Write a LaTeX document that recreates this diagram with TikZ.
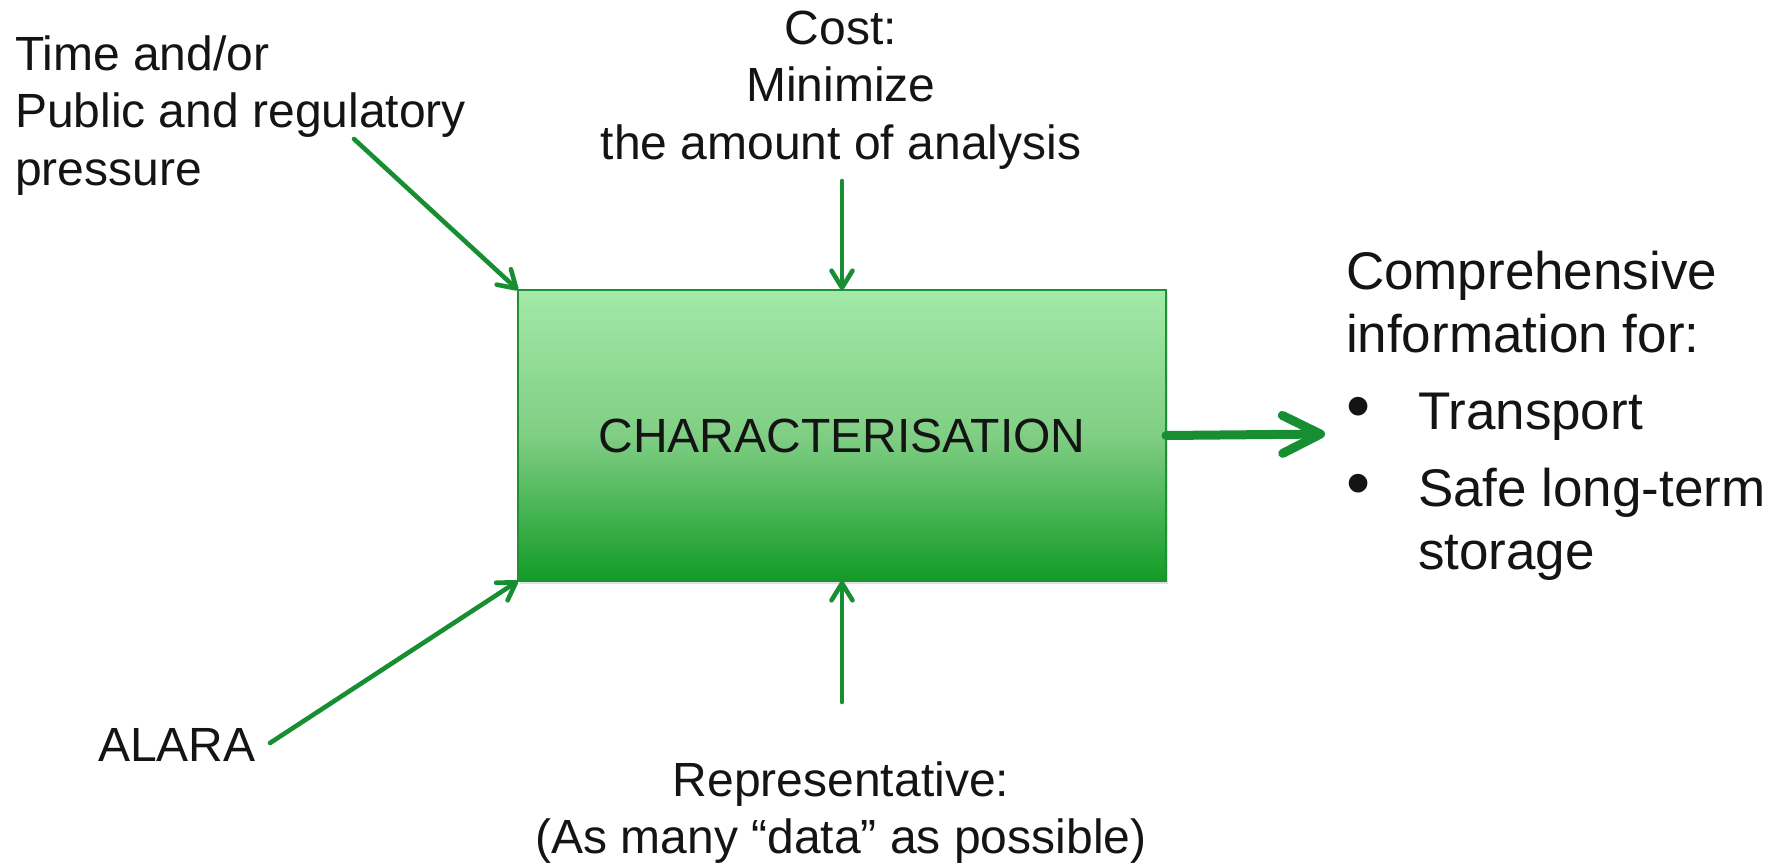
\documentclass[tikz,border=0pt]{standalone}
\usepackage{fontspec}
\setmainfont{Liberation Sans}
\usetikzlibrary{arrows.meta,shadows}
\definecolor{arr}{RGB}{24,142,50}
\definecolor{boxtop}{RGB}{163,233,168}
\definecolor{boxmid}{RGB}{128,206,132}
\definecolor{boxbot}{RGB}{18,155,38}
\definecolor{boxline}{RGB}{30,145,52}
\definecolor{ink}{RGB}{20,20,20}
\begin{document}
\begin{tikzpicture}[x=1pt,y=-1pt,
  txt/.style={inner sep=0pt, outer sep=0pt, text=ink, font=\fontsize{48}{57.5}\selectfont},
  bigtxt/.style={inner sep=0pt, outer sep=0pt, text=ink, font=\fontsize{53}{63}\selectfont},
  conn/.style={draw=arr, line width=4.6pt, line cap=round,
    -{Straight Barb[length=17pt,width=21pt,round]}},
  bigconn/.style={draw=arr, line width=9pt, line cap=round,
    -{Straight Barb[length=38pt,width=38pt,round]}},
  procbox/.style={draw=boxline, line width=1.6pt, outer sep=0pt, inner sep=0pt,
    top color=boxtop, bottom color=boxbot, middle color=boxmid,
    text=ink, font=\fontsize{48}{57.5}\selectfont,
    drop shadow={opacity=0.25, shadow xshift=2pt, shadow yshift=-3pt}}
]
\useasboundingbox (0,0) rectangle (1781,863);

% main box
\node[procbox, minimum width=648pt, minimum height=291pt] (box) at (842,435.5) {CHARACTERISATION};

% texts
\node[txt, anchor=base west] (tl) at (15,70)
  {\begin{tabular}[t]{@{}l@{}}Time and/or\\Public and regulatory\\pressure\end{tabular}};
\node[txt, anchor=base] (cost) at (841,44)
  {\begin{tabular}[t]{@{}c@{}}Cost:\\Minimize\\the amount of analysis\end{tabular}};
\node[txt, anchor=base west] (alara) at (98,761) {ALARA};
\node[txt, anchor=base] (rep) at (841,796)
  {\begin{tabular}[t]{@{}c@{}}Representative:\\(As many “data” as possible)\end{tabular}};
\node[bigtxt, anchor=base west] (info) at (1346,289)
  {\begin{tabular}[t]{@{}p{72pt}@{}l@{}}
   \multicolumn{2}{@{}l@{}}{Comprehensive}\\
   \multicolumn{2}{@{}l@{}}{information for:}\\[14pt]
   \scalebox{1.3}{•} & Transport\\[14pt]
   \scalebox{1.3}{•} & Safe long-term\\
   & storage
   \end{tabular}};

% connector ends
\coordinate (tlS) at (354,139);
\coordinate (topS) at (842,181);
\coordinate (botS) at (842,702);
\coordinate (alS) at (270,743);
\coordinate (outE) at (1325,434);

% connectors
\draw[conn] (tlS) -- (box.north west);
\draw[conn] (topS) -- (box.north);
\draw[conn] (botS) -- (box.south);
\draw[conn] (alS) -- (box.south west);
\draw[bigconn] (box.east) -- (outE);
\end{tikzpicture}
\end{document}
